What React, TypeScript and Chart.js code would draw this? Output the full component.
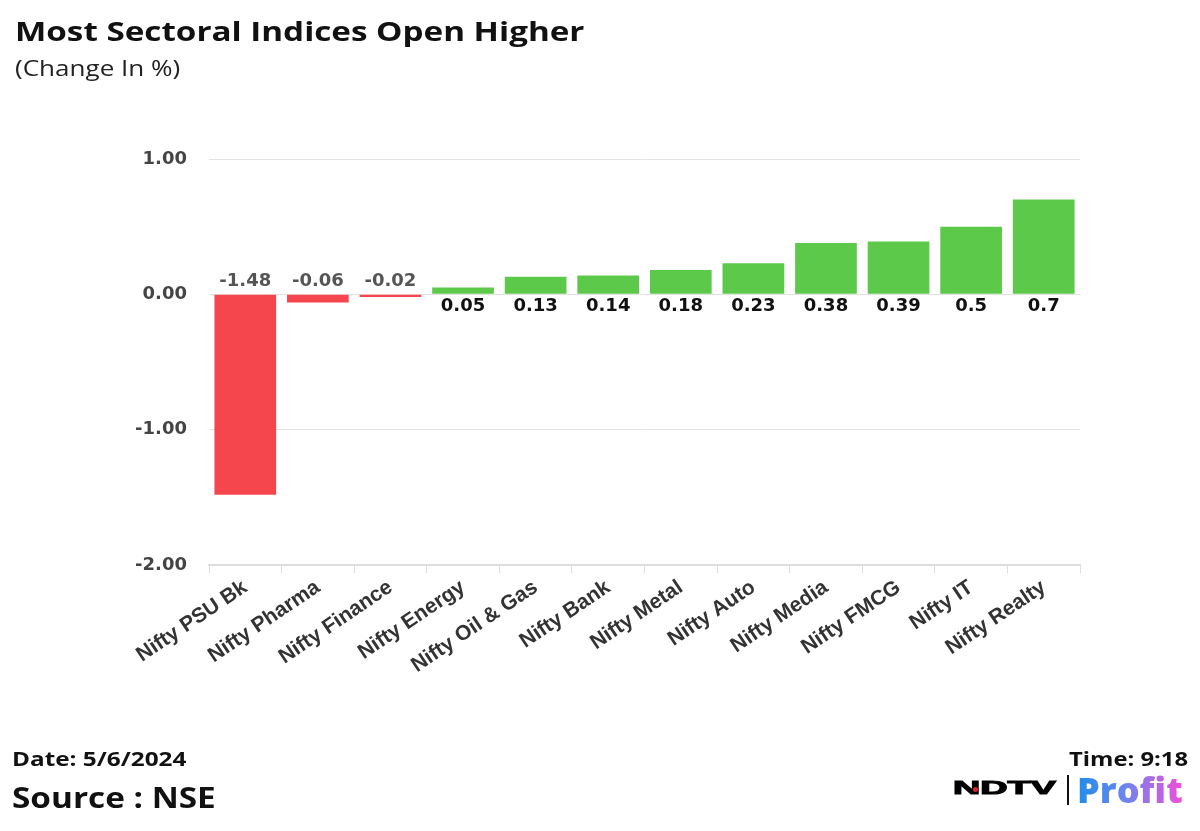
import React, { useEffect, useRef } from "react";
import { Chart, registerables } from "chart.js";

Chart.register(...registerables);

const categories = [
  "Nifty PSU Bk",
  "Nifty Pharma",
  "Nifty Finance",
  "Nifty Energy",
  "Nifty Oil & Gas",
  "Nifty Bank",
  "Nifty Metal",
  "Nifty Auto",
  "Nifty Media",
  "Nifty FMCG",
  "Nifty IT",
  "Nifty Realty",
];
const changeValues = [-1.48, -0.06, -0.02, 0.05, 0.13, 0.14, 0.18, 0.23, 0.38, 0.39, 0.5, 0.7];
const valueLabels = ["-1.48", "-0.06", "-0.02", "0.05", "0.13", "0.14", "0.18", "0.23", "0.38", "0.39", "0.5", "0.7"];
const yTicks = [1, 0, -1, -2];

const RED = "#f5464e";
const GREEN = "#5dc94a";

const labelPlugin = {
  id: "valueLabels",
  afterDatasetsDraw(chart: any) {
    const ctx = chart.ctx;
    const meta = chart.getDatasetMeta(0);
    const y0 = chart.scales.y.getPixelForValue(0);
    ctx.save();
    ctx.font = "bold 18px 'DejaVu Sans'";
    ctx.textAlign = "center";
    meta.data.forEach((bar: any, i: number) => {
      const v = changeValues[i];
      if (v < 0) {
        ctx.fillStyle = "#555555";
        ctx.textBaseline = "bottom";
        ctx.fillText(valueLabels[i], bar.x, y0 - 4);
      } else {
        ctx.fillStyle = "#111111";
        ctx.textBaseline = "top";
        ctx.fillText(valueLabels[i], bar.x, y0 + 3);
      }
    });
    ctx.restore();
  },
};

export default function App() {
  const ref = useRef<HTMLCanvasElement>(null);
  useEffect(() => {
    if (!ref.current) return;
    const chart = new Chart(ref.current, {
      type: "bar",
      data: {
        labels: categories,
        datasets: [
          {
            data: changeValues,
            backgroundColor: changeValues.map((v) => (v < 0 ? RED : GREEN)),
            barPercentage: 0.85,
            categoryPercentage: 1,
          },
        ],
      },
      options: {
        animation: false,
        responsive: false,
        devicePixelRatio: 1,
        layout: { padding: { left: 0, top: 159, right: 120, bottom: 0 } },
        plugins: { legend: { display: false }, tooltip: { enabled: false }, title: { display: false } },
        scales: {
          x: {
            afterFit(scale: any) {
              scale.height = 266;
            },
            grid: {
              display: true,
              drawOnChartArea: false,
              drawTicks: true,
              tickLength: 8,
              color: "#dddddd",
              offset: true,
            },
            border: { display: true, color: "#dddddd", width: 2 },
            ticks: {
              minRotation: 34,
              maxRotation: 34,
              color: "#333333",
              font: { family: "'Liberation Sans', Arial", weight: "bold", size: 21 },
              padding: 2,
            },
          },
          y: {
            min: -2,
            max: 1,
            afterFit(scale: any) {
              scale.width = 209;
            },
            afterBuildTicks(scale: any) {
              scale.ticks = yTicks.map((v) => ({ value: v }));
            },
            grid: { color: "#e3e3e3", drawTicks: false, lineWidth: 1 },
            border: { display: false },
            ticks: {
              color: "#444444",
              padding: 22,
              font: { family: "'DejaVu Sans'", weight: "bold", size: 18 },
              callback: (v: any) => Number(v).toFixed(2),
            },
          },
        },
      },
      plugins: [labelPlugin],
    });
    return () => chart.destroy();
  }, []);

  const txt: React.CSSProperties = {
    position: "absolute",
    fontFamily: "'Open Sans', sans-serif",
    fontWeight: 700,
    color: "#111",
    whiteSpace: "nowrap",
    lineHeight: 1,
  };

  return (
    <div style={{ position: "absolute", left: 0, top: 0, width: 1200, height: 831, background: "#fff", overflow: "hidden" }}>
      <canvas ref={ref} width={1200} height={831} style={{ position: "absolute", left: 0, top: 0, width: 1200, height: 831 }} />
      <div style={{ ...txt, left: 15, top: 17, fontSize: 27, transform: "scaleX(1.23)", transformOrigin: "left top" }}>
        Most Sectoral Indices Open Higher
      </div>
      <div style={{ ...txt, left: 15, top: 58, fontWeight: 400, fontSize: 21, color: "#222", transform: "scaleX(1.24)", transformOrigin: "left top" }}>
        (Change In %)
      </div>
      <div style={{ ...txt, left: 12, top: 750, fontSize: 19, transform: "scaleX(1.28)", transformOrigin: "left top" }}>Date: 5/6/2024</div>
      <div style={{ ...txt, left: 12, top: 783, fontSize: 28, transform: "scaleX(1.19)", transformOrigin: "left top" }}>Source : NSE</div>
      <div style={{ ...txt, right: 12, top: 749, fontSize: 20, transform: "scaleX(1.19)", transformOrigin: "right top" }}>Time: 9:18</div>
      <div style={{ position: "absolute", left: 953, top: 772, height: 36, width: 240 }}>
        <span
          style={{
            position: "absolute",
            left: 0,
            top: 7,
            fontFamily: "'Liberation Sans', Arial",
            fontWeight: 700,
            fontSize: 18,
            lineHeight: 1,
            color: "#000",
            WebkitTextStroke: "1px #000",
            transform: "scaleX(2.1)",
            transformOrigin: "left top",
            whiteSpace: "nowrap",
          }}
        >
          NDTV
        </span>
        <span style={{ position: "absolute", left: 20, top: 15, width: 5, height: 5, borderRadius: 3, background: "#e0202a" }} />
        <span style={{ position: "absolute", left: 114, top: 3, width: 2, height: 30, background: "#111" }} />
        <span
          style={{
            position: "absolute",
            left: 124,
            top: -4,
            fontFamily: "'Open Sans', sans-serif",
            fontWeight: 800,
            fontSize: 36,
            lineHeight: 1.2,
            whiteSpace: "nowrap",
            background: "linear-gradient(90deg, #1f8ee8 0%, #6c84ee 45%, #f050d8 100%)",
            WebkitBackgroundClip: "text",
            backgroundClip: "text",
            color: "transparent",
          }}
        >
          Profit
        </span>
      </div>
    </div>
  );
}
